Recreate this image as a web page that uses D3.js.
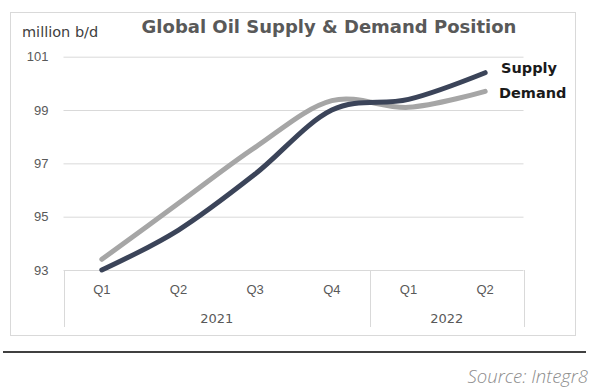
<!DOCTYPE html>
<html>
<head>
<meta charset="utf-8">
<script src="https://cdn.jsdelivr.net/npm/d3@7"></script>
<style>
  body { margin: 0; background: #fff; }
  svg { display: block; font-family: "DejaVu Sans", sans-serif; }
  .tick text { fill: #595959; font-size: 13px; }
  .grid .tick line { stroke: #d9d9d9; }
</style>
</head>
<body>
<svg class="chart" width="600" height="389"></svg>
<script>
// Data (million b/d)
const quarters = ["Q1", "Q2", "Q3", "Q4", "Q1", "Q2"];
const quarterYear = ["2021", "2021", "2021", "2021", "2022", "2022"];
const years = ["2021", "2022"];
const supply = [93.0, 94.5, 96.6, 99.0, 99.4, 100.4];
const demand = [93.4, 95.5, 97.6, 99.35, 99.1, 99.7];
const yTicks = [93, 95, 97, 99, 101];

const svg = d3.select(".chart");
const plotLeft = 63.5, plotRight = 523.5, plotTop = 56.7, plotBottom = 270;

// outer frame
svg.append("rect")
    .attr("x", 10.5).attr("y", 12.5)
    .attr("width", 565).attr("height", 323)
    .attr("fill", "none")
    .attr("stroke", "#d9d9d9");

const x = d3.scaleBand()
    .domain(d3.range(quarters.length))
    .range([plotLeft, plotRight]);

const y = d3.scaleLinear()
    .domain([93, 101])
    .range([plotBottom, plotTop]);

// y axis + gridlines
const gy = svg.append("g")
    .attr("class", "grid")
    .attr("transform", `translate(${plotLeft},0)`)
    .call(d3.axisLeft(y).tickValues(yTicks).tickSize(-(plotRight - plotLeft)).tickPadding(15));
gy.select(".domain").remove();

// quarter labels
const gx = svg.append("g")
    .attr("transform", `translate(0,${plotBottom})`)
    .call(d3.axisBottom(x).tickSize(0).tickPadding(15).tickFormat(i => quarters[i]));
gx.select(".domain").remove();

// category box lines
const seps = [x(0), x(quarterYear.indexOf(years[1])), x(quarters.length - 1) + x.bandwidth()];
svg.selectAll(".sep")
    .data(seps)
    .enter().append("line")
    .attr("x1", d => Math.round(d) + 0.5)
    .attr("x2", d => Math.round(d) + 0.5)
    .attr("y1", plotBottom)
    .attr("y2", 327)
    .attr("stroke", "#d9d9d9");

// year labels
svg.selectAll(".year")
    .data(years)
    .enter().append("text")
    .attr("class", "year")
    .attr("x", yr => {
        const idx = d3.range(quarters.length).filter(i => quarterYear[i] === yr);
        return (x(idx[0]) + x(idx[idx.length - 1]) + x.bandwidth()) / 2;
    })
    .attr("y", 323)
    .attr("text-anchor", "middle")
    .attr("fill", "#595959")
    .style("font-size", "13px")
    .text(d => d);

// lines
const line = d3.line()
    .x((d, i) => x(i) + x.bandwidth() / 2)
    .y(d => y(d))
    .curve(d3.curveCardinal.tension(0));

svg.append("path")
    .datum(demand)
    .attr("fill", "none")
    .attr("stroke", "#a6a6a6")
    .attr("stroke-width", 5)
    .attr("stroke-linecap", "round")
    .attr("d", line);

svg.append("path")
    .datum(supply)
    .attr("fill", "none")
    .attr("stroke", "#3b4459")
    .attr("stroke-width", 5)
    .attr("stroke-linecap", "round")
    .attr("d", line);

// series labels
svg.append("text")
    .attr("x", 501).attr("y", 73)
    .attr("fill", "#1a1a1a")
    .style("font-size", "14.5px").style("font-weight", "bold")
    .text("Supply");
svg.append("text")
    .attr("x", 499).attr("y", 98)
    .attr("fill", "#1a1a1a")
    .style("font-size", "14.5px").style("font-weight", "bold")
    .text("Demand");

// title & unit
svg.append("text")
    .attr("x", 329).attr("y", 33)
    .attr("text-anchor", "middle")
    .attr("fill", "#595959")
    .style("font-size", "18px").style("font-weight", "bold")
    .text("Global Oil Supply & Demand Position");

svg.append("text")
    .attr("x", 22).attr("y", 37)
    .attr("fill", "#404040")
    .style("font-size", "14.5px")
    .text("million b/d");

// footer rule and source
svg.append("line")
    .attr("x1", 3).attr("x2", 586)
    .attr("y1", 352).attr("y2", 352)
    .attr("stroke", "#404040")
    .attr("stroke-width", 2);

svg.append("text")
    .attr("x", 588).attr("y", 383)
    .attr("text-anchor", "end")
    .attr("fill", "#8c8c8c")
    .style("font-family", "'Open Sans', sans-serif")
    .style("font-style", "italic")
    .style("font-weight", 300)
    .style("font-size", "18.5px")
    .text("Source: Integr8");
</script>
</body>
</html>
